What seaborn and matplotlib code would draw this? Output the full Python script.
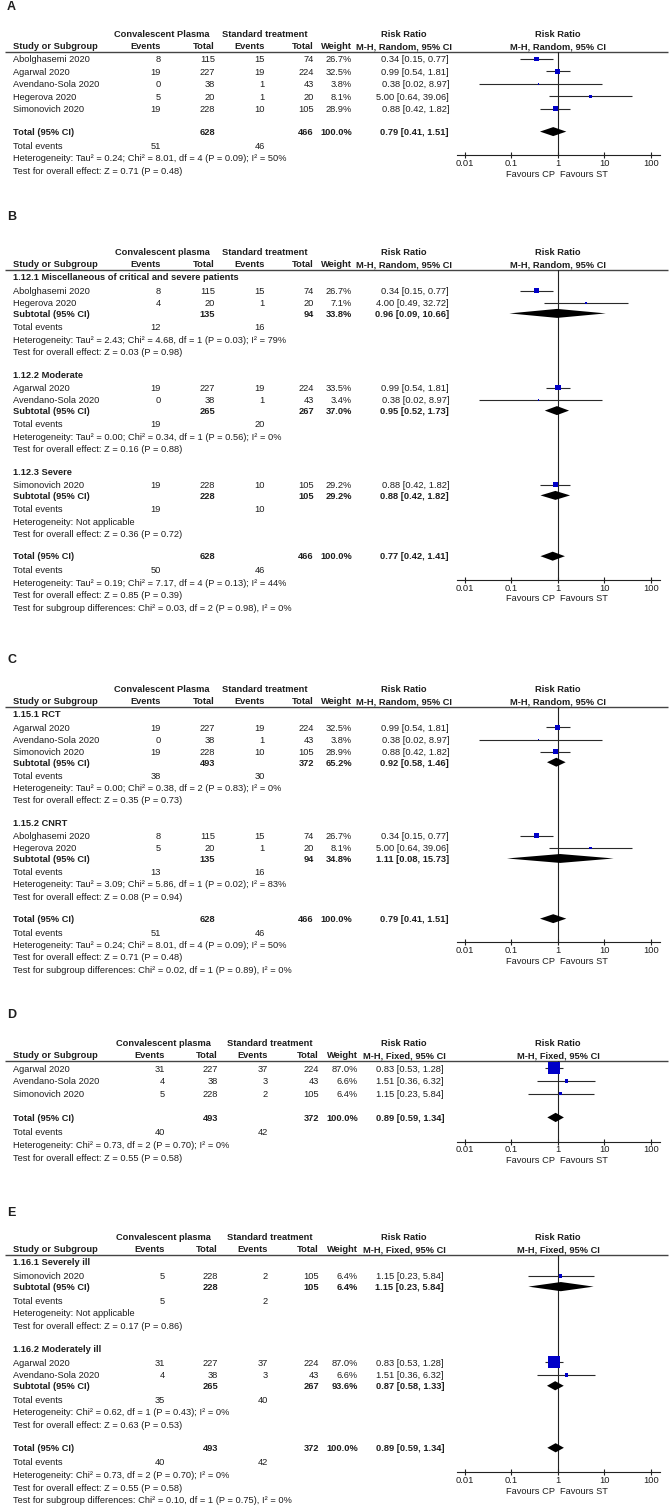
import numpy as np
import pandas as pd
import matplotlib
matplotlib.use("Agg")
import matplotlib.pyplot as plt
from matplotlib.ticker import NullLocator
import seaborn as sns

sns.set_theme(style="white")
plt.rcParams["font.family"] = ["Liberation Sans", "DejaVu Sans"]

# ---------------------------------------------------------------- data
# Panel A
A_study = ["Abolghasemi 2020", "Agarwal 2020", "Avendano-Sola 2020", "Hegerova 2020", "Simonovich 2020"]
A_cp_events = [8, 19, 0, 5, 19]
A_cp_total = [115, 227, 38, 20, 228]
A_st_events = [15, 19, 1, 1, 10]
A_st_total = [74, 224, 43, 20, 105]
A_weight = [26.7, 32.5, 3.8, 8.1, 28.9]
A_rr = [0.34, 0.99, 0.38, 5.00, 0.88]
A_lo = [0.15, 0.54, 0.02, 0.64, 0.42]
A_hi = [0.77, 1.81, 8.97, 39.06, 1.82]
A_total = [628, 466, 100.0, 0.79, 0.41, 1.51]
A_total_events = [51, 46]
A_notes = ["Heterogeneity: Tau\u00b2 = 0.24; Chi\u00b2 = 8.01, df = 4 (P = 0.09); I\u00b2 = 50%",
           "Test for overall effect: Z = 0.71 (P = 0.48)"]

# Panel B
B_study = ["Abolghasemi 2020", "Hegerova 2020", "Agarwal 2020", "Avendano-Sola 2020", "Simonovich 2020"]
B_group = [0, 0, 1, 1, 2]
B_cp_events = [8, 4, 19, 0, 19]
B_cp_total = [115, 20, 227, 38, 228]
B_st_events = [15, 1, 19, 1, 10]
B_st_total = [74, 20, 224, 43, 105]
B_weight = [26.7, 7.1, 33.5, 3.4, 29.2]
B_rr = [0.34, 4.00, 0.99, 0.38, 0.88]
B_lo = [0.15, 0.49, 0.54, 0.02, 0.42]
B_hi = [0.77, 32.72, 1.81, 8.97, 1.82]
B_group_label = ["1.12.1 Miscellaneous of critical and severe patients", "1.12.2 Moderate", "1.12.3 Severe"]
B_sub_cp_total = [135, 265, 228]
B_sub_st_total = [94, 267, 105]
B_sub_weight = [33.8, 37.0, 29.2]
B_sub_rr = [0.96, 0.95, 0.88]
B_sub_lo = [0.09, 0.52, 0.42]
B_sub_hi = [10.66, 1.73, 1.82]
B_sub_cp_events = [12, 19, 19]
B_sub_st_events = [16, 20, 10]
B_sub_notes = [["Heterogeneity: Tau\u00b2 = 2.43; Chi\u00b2 = 4.68, df = 1 (P = 0.03); I\u00b2 = 79%",
                "Test for overall effect: Z = 0.03 (P = 0.98)"],
               ["Heterogeneity: Tau\u00b2 = 0.00; Chi\u00b2 = 0.34, df = 1 (P = 0.56); I\u00b2 = 0%",
                "Test for overall effect: Z = 0.16 (P = 0.88)"],
               ["Heterogeneity: Not applicable",
                "Test for overall effect: Z = 0.36 (P = 0.72)"]]
B_total = [628, 466, 100.0, 0.77, 0.42, 1.41]
B_total_events = [50, 46]
B_notes = ["Heterogeneity: Tau\u00b2 = 0.19; Chi\u00b2 = 7.17, df = 4 (P = 0.13); I\u00b2 = 44%",
           "Test for overall effect: Z = 0.85 (P = 0.39)",
           "Test for subgroup differences: Chi\u00b2 = 0.03, df = 2 (P = 0.98), I\u00b2 = 0%"]

# Panel C
C_study = ["Agarwal 2020", "Avendano-Sola 2020", "Simonovich 2020", "Abolghasemi 2020", "Hegerova 2020"]
C_group = [0, 0, 0, 1, 1]
C_cp_events = [19, 0, 19, 8, 5]
C_cp_total = [227, 38, 228, 115, 20]
C_st_events = [19, 1, 10, 15, 1]
C_st_total = [224, 43, 105, 74, 20]
C_weight = [32.5, 3.8, 28.9, 26.7, 8.1]
C_rr = [0.99, 0.38, 0.88, 0.34, 5.00]
C_lo = [0.54, 0.02, 0.42, 0.15, 0.64]
C_hi = [1.81, 8.97, 1.82, 0.77, 39.06]
C_group_label = ["1.15.1 RCT", "1.15.2 CNRT"]
C_sub_cp_total = [493, 135]
C_sub_st_total = [372, 94]
C_sub_weight = [65.2, 34.8]
C_sub_rr = [0.92, 1.11]
C_sub_lo = [0.58, 0.08]
C_sub_hi = [1.46, 15.73]
C_sub_cp_events = [38, 13]
C_sub_st_events = [30, 16]
C_sub_notes = [["Heterogeneity: Tau\u00b2 = 0.00; Chi\u00b2 = 0.38, df = 2 (P = 0.83); I\u00b2 = 0%",
                "Test for overall effect: Z = 0.35 (P = 0.73)"],
               ["Heterogeneity: Tau\u00b2 = 3.09; Chi\u00b2 = 5.86, df = 1 (P = 0.02); I\u00b2 = 83%",
                "Test for overall effect: Z = 0.08 (P = 0.94)"]]
C_total = [628, 466, 100.0, 0.79, 0.41, 1.51]
C_total_events = [51, 46]
C_notes = ["Heterogeneity: Tau\u00b2 = 0.24; Chi\u00b2 = 8.01, df = 4 (P = 0.09); I\u00b2 = 50%",
           "Test for overall effect: Z = 0.71 (P = 0.48)",
           "Test for subgroup differences: Chi\u00b2 = 0.02, df = 1 (P = 0.89), I\u00b2 = 0%"]

# Panel D
D_study = ["Agarwal 2020", "Avendano-Sola 2020", "Simonovich 2020"]
D_cp_events = [31, 4, 5]
D_cp_total = [227, 38, 228]
D_st_events = [37, 3, 2]
D_st_total = [224, 43, 105]
D_weight = [87.0, 6.6, 6.4]
D_rr = [0.83, 1.51, 1.15]
D_lo = [0.53, 0.36, 0.23]
D_hi = [1.28, 6.32, 5.84]
D_total = [493, 372, 100.0, 0.89, 0.59, 1.34]
D_total_events = [40, 42]
D_notes = ["Heterogeneity: Chi\u00b2 = 0.73, df = 2 (P = 0.70); I\u00b2 = 0%",
           "Test for overall effect: Z = 0.55 (P = 0.58)"]

# Panel E
E_study = ["Simonovich 2020", "Agarwal 2020", "Avendano-Sola 2020"]
E_group = [0, 1, 1]
E_cp_events = [5, 31, 4]
E_cp_total = [228, 227, 38]
E_st_events = [2, 37, 3]
E_st_total = [105, 224, 43]
E_weight = [6.4, 87.0, 6.6]
E_rr = [1.15, 0.83, 1.51]
E_lo = [0.23, 0.53, 0.36]
E_hi = [5.84, 1.28, 6.32]
E_group_label = ["1.16.1 Severely ill", "1.16.2 Moderately ill"]
E_sub_cp_total = [228, 265]
E_sub_st_total = [105, 267]
E_sub_weight = [6.4, 93.6]
E_sub_rr = [1.15, 0.87]
E_sub_lo = [0.23, 0.58]
E_sub_hi = [5.84, 1.33]
E_sub_cp_events = [5, 35]
E_sub_st_events = [2, 40]
E_sub_notes = [["Heterogeneity: Not applicable",
                "Test for overall effect: Z = 0.17 (P = 0.86)"],
               ["Heterogeneity: Chi\u00b2 = 0.62, df = 1 (P = 0.43); I\u00b2 = 0%",
                "Test for overall effect: Z = 0.63 (P = 0.53)"]]
E_total = [493, 372, 100.0, 0.89, 0.59, 1.34]
E_total_events = [40, 42]
E_notes = ["Heterogeneity: Chi\u00b2 = 0.73, df = 2 (P = 0.70); I\u00b2 = 0%",
           "Test for overall effect: Z = 0.55 (P = 0.58)",
           "Test for subgroup differences: Chi\u00b2 = 0.10, df = 1 (P = 0.75), I\u00b2 = 0%"]

tick_values = [0.01, 0.1, 1, 10, 100]
tick_labels = ["0.01", "0.1", "1", "10", "100"]

# ---------------------------------------------------------------- style / layout
W, H = 672, 1507
FS = 6.7
TXT = "#1e1e1e"
BLUE = "#0000c8"
BASE = 3.3            # px from visual centre to baseline
PX_L, PX_R = 457, 660  # pixel extent of forest axis
LOG_L, LOG_R = -2.172, 2.194

STEP = {("hline", "label"): 7, ("hline", "study"): 7, ("label", "study"): 13.5,
        ("study", "study"): 12.4, ("study", "subtotal"): 10.5, ("subtotal", "events"): 13.5,
        ("events", "text"): 12.4, ("text", "text"): 12.4, ("text", "label"): 22.5,
        ("text", "total"): 22.5, ("study", "total"): 23, ("total", "events"): 14}

COLS_R = dict(ev1=161, n1=215, ev2=265, n2=314, w=352, rr=449, rrh=404, cph=162, sth=265)
COLS_F = dict(ev1=165, n1=218, ev2=268, n2=319, w=358, rr=444, rrh=404, cph=163, sth=270)

fig = plt.figure(figsize=(W / 100, H / 100), dpi=100)
fig.patch.set_facecolor("white")
tax = fig.add_axes([0, 0, 1, 1])
tax.set_xlim(0, W)
tax.set_ylim(H, 0)
tax.axis("off")


def txt(x, y, s, ha="left", bold=False, size=FS):
    tax.text(x, y + BASE, s, ha=ha, va="baseline", fontsize=size,
             fontweight="bold" if bold else "normal", color=TXT)


def rrfmt(r, lo, hi):
    return f"{r:.2f} [{lo:.2f}, {hi:.2f}]"


def panel(letter, letter_y, hline, scale, cp_head, method, cols, k,
          study, cp_e, cp_n, st_e, st_n, w, rr, lo, hi,
          total, total_events, notes,
          group=None, group_label=None, sub=None):
    # --- rows
    rows = []
    if group is None:
        for i in range(len(study)):
            rows.append(("study", i))
    else:
        for g, lab in enumerate(group_label):
            rows.append(("label", lab))
            for i, gg in enumerate(group):
                if gg == g:
                    rows.append(("study", i))
            rows.append(("subtotal", g))
            rows.append(("events", ("sub", g)))
            for line in sub["notes"][g]:
                rows.append(("text", line))
    rows.append(("total", None))
    rows.append(("events", ("tot", None)))
    for line in notes:
        rows.append(("text", line))

    ys = []
    prev, y = "hline", hline
    for kind, _ in rows:
        y += STEP[(prev, kind)] * scale
        ys.append(y)
        prev = kind
    total_y = ys[[r[0] for r in rows].index("total")]
    axis_y = total_y + 23.5 * scale

    # --- header
    txt(7, letter_y, letter, bold=True, size=9)
    txt(cols["cph"], hline - 18, cp_head, ha="center", bold=True)
    txt(cols["sth"], hline - 18, "Standard treatment", ha="center", bold=True)
    txt(cols["rrh"], hline - 18, "Risk Ratio", ha="center", bold=True)
    txt(13, hline - 6, "Study or Subgroup", bold=True)
    txt(cols["ev1"], hline - 6, "Events", ha="right", bold=True)
    txt(cols["n1"], hline - 6, "Total", ha="right", bold=True)
    txt(cols["ev2"], hline - 6, "Events", ha="right", bold=True)
    txt(cols["n2"], hline - 6, "Total", ha="right", bold=True)
    txt(cols["w"], hline - 6, "Weight", ha="right", bold=True)
    txt(cols["rrh"], hline - 6, method, ha="center", bold=True)
    tax.plot([5, 668], [hline, hline], color="#444444", lw=1.0, solid_capstyle="butt")

    # --- forest axes
    fax = fig.add_axes([PX_L / W, 1 - axis_y / H, (PX_R - PX_L) / W, (axis_y - hline) / H])
    fax.set_facecolor("none")
    fax.set_xscale("log")
    fax.set_xlim(10 ** LOG_L, 10 ** LOG_R)
    fax.set_ylim(axis_y, hline)
    for s in ["left", "right", "top"]:
        fax.spines[s].set_visible(False)
    fax.spines["bottom"].set_color("#222222")
    fax.spines["bottom"].set_linewidth(0.8)
    fax.set_xticks(tick_values)
    fax.set_xticklabels(tick_labels)
    fax.xaxis.set_minor_locator(NullLocator())
    fax.tick_params(axis="x", bottom=True, direction="inout", length=4.3, width=0.8,
                    pad=0.6, labelsize=FS, colors="#222222", labelcolor=TXT)
    fax.set_yticks([])
    fax.axvline(1, color="#222222", lw=0.8)
    fax.annotate("Risk Ratio", xy=(1, hline - 18 + BASE), xycoords="data", ha="center",
                 va="baseline", fontsize=FS, fontweight="bold", color=TXT, annotation_clip=False)
    fax.annotate(method, xy=(1, hline - 6 + BASE), xycoords="data", ha="center",
                 va="baseline", fontsize=FS, fontweight="bold", color=TXT, annotation_clip=False)
    fax.annotate("Favours CP", xy=(1, axis_y + 18.5 + BASE), xycoords="data", xytext=(-2.2, 0),
                 textcoords="offset points", ha="right", va="baseline", fontsize=FS, color=TXT,
                 annotation_clip=False)
    fax.annotate("Favours ST", xy=(1, axis_y + 18.5 + BASE), xycoords="data", xytext=(1.6, 0),
                 textcoords="offset points", ha="left", va="baseline", fontsize=FS, color=TXT,
                 annotation_clip=False)

    st_rows = []
    for (kind, p), y in zip(rows, ys):
        if kind == "label":
            txt(13, y, p, bold=True)
        elif kind == "study":
            i = p
            txt(13, y, study[i])
            txt(cols["ev1"], y, str(cp_e[i]), ha="right")
            txt(cols["n1"], y, str(cp_n[i]), ha="right")
            txt(cols["ev2"], y, str(st_e[i]), ha="right")
            txt(cols["n2"], y, str(st_n[i]), ha="right")
            txt(cols["w"], y, f"{w[i]:.1f}%", ha="right")
            txt(cols["rr"], y, rrfmt(rr[i], lo[i], hi[i]), ha="right")
            st_rows.append((i, y))
        elif kind == "subtotal":
            g = p
            txt(13, y, "Subtotal (95% CI)", bold=True)
            txt(cols["n1"], y, str(sub["cp_n"][g]), ha="right", bold=True)
            txt(cols["n2"], y, str(sub["st_n"][g]), ha="right", bold=True)
            txt(cols["w"], y, f"{sub['w'][g]:.1f}%", ha="right", bold=True)
            txt(cols["rr"], y, rrfmt(sub["rr"][g], sub["lo"][g], sub["hi"][g]), ha="right", bold=True)
            h = 4.5 * scale
            fax.fill([sub["lo"][g], sub["rr"][g], sub["hi"][g], sub["rr"][g]], [y, y - h, y, y + h],
                     color="black", lw=0, zorder=4)
        elif kind == "events":
            which, g = p
            if which == "sub":
                e1, e2 = sub["cp_e"][g], sub["st_e"][g]
            else:
                e1, e2 = total_events
            txt(13, y, "Total events")
            txt(cols["ev1"], y, str(e1), ha="right")
            txt(cols["ev2"], y, str(e2), ha="right")
        elif kind == "text":
            txt(13, y, p)
        elif kind == "total":
            txt(13, y, "Total (95% CI)", bold=True)
            txt(cols["n1"], y, str(total[0]), ha="right", bold=True)
            txt(cols["n2"], y, str(total[1]), ha="right", bold=True)
            txt(cols["w"], y, f"{total[2]:.1f}%", ha="right", bold=True)
            txt(cols["rr"], y, rrfmt(total[3], total[4], total[5]), ha="right", bold=True)
            h = 4.5 * scale
            fax.fill([total[4], total[3], total[5], total[3]], [y, y - h, y, y + h],
                     color="black", lw=0, zorder=4)

    idx = [i for i, _ in st_rows]
    df = pd.DataFrame({"rr": [rr[i] for i in idx], "y": [y for _, y in st_rows],
                       "lo": [lo[i] for i in idx], "hi": [hi[i] for i in idx],
                       "w": [w[i] for i in idx]})
    fax.hlines(df["y"], df["lo"], df["hi"], color="#2a2a2a", lw=0.8, zorder=3)
    smax = (k * 0.72 * 10) ** 2
    sns.scatterplot(data=df, x="rr", y="y", size="w", sizes=(0, smax), size_norm=(0, 100),
                    marker="s", color=BLUE, linewidth=0, legend=False, ax=fax, zorder=5)
    fax.set_xlabel("")
    fax.set_ylabel("")
    fax.set_xlim(10 ** LOG_L, 10 ** LOG_R)
    fax.set_ylim(axis_y, hline)


panel("A", 7, 52, 1.0, "Convalescent Plasma", "M-H, Random, 95% CI", COLS_R, 0.95,
      A_study, A_cp_events, A_cp_total, A_st_events, A_st_total, A_weight, A_rr, A_lo, A_hi,
      A_total, A_total_events, A_notes)

panel("B", 217, 270, 1.0, "Convalescent plasma", "M-H, Random, 95% CI", COLS_R, 0.95,
      B_study, B_cp_events, B_cp_total, B_st_events, B_st_total, B_weight, B_rr, B_lo, B_hi,
      B_total, B_total_events, B_notes, group=B_group, group_label=B_group_label,
      sub=dict(cp_n=B_sub_cp_total, st_n=B_sub_st_total, w=B_sub_weight, rr=B_sub_rr,
               lo=B_sub_lo, hi=B_sub_hi, cp_e=B_sub_cp_events, st_e=B_sub_st_events,
               notes=B_sub_notes))

panel("C", 660, 707, 0.99, "Convalescent Plasma", "M-H, Random, 95% CI", COLS_R, 0.95,
      C_study, C_cp_events, C_cp_total, C_st_events, C_st_total, C_weight, C_rr, C_lo, C_hi,
      C_total, C_total_events, C_notes, group=C_group, group_label=C_group_label,
      sub=dict(cp_n=C_sub_cp_total, st_n=C_sub_st_total, w=C_sub_weight, rr=C_sub_rr,
               lo=C_sub_lo, hi=C_sub_hi, cp_e=C_sub_cp_events, st_e=C_sub_st_events,
               notes=C_sub_notes))

panel("D", 1015, 1061, 1.03, "Convalescent plasma", "M-H, Fixed, 95% CI", COLS_F, 1.3,
      D_study, D_cp_events, D_cp_total, D_st_events, D_st_total, D_weight, D_rr, D_lo, D_hi,
      D_total, D_total_events, D_notes)

panel("E", 1213, 1255, 1.02, "Convalescent plasma", "M-H, Fixed, 95% CI", COLS_F, 1.3,
      E_study, E_cp_events, E_cp_total, E_st_events, E_st_total, E_weight, E_rr, E_lo, E_hi,
      E_total, E_total_events, E_notes, group=E_group, group_label=E_group_label,
      sub=dict(cp_n=E_sub_cp_total, st_n=E_sub_st_total, w=E_sub_weight, rr=E_sub_rr,
               lo=E_sub_lo, hi=E_sub_hi, cp_e=E_sub_cp_events, st_e=E_sub_st_events,
               notes=E_sub_notes))

fig.savefig("out.png", dpi=100, facecolor="white")
